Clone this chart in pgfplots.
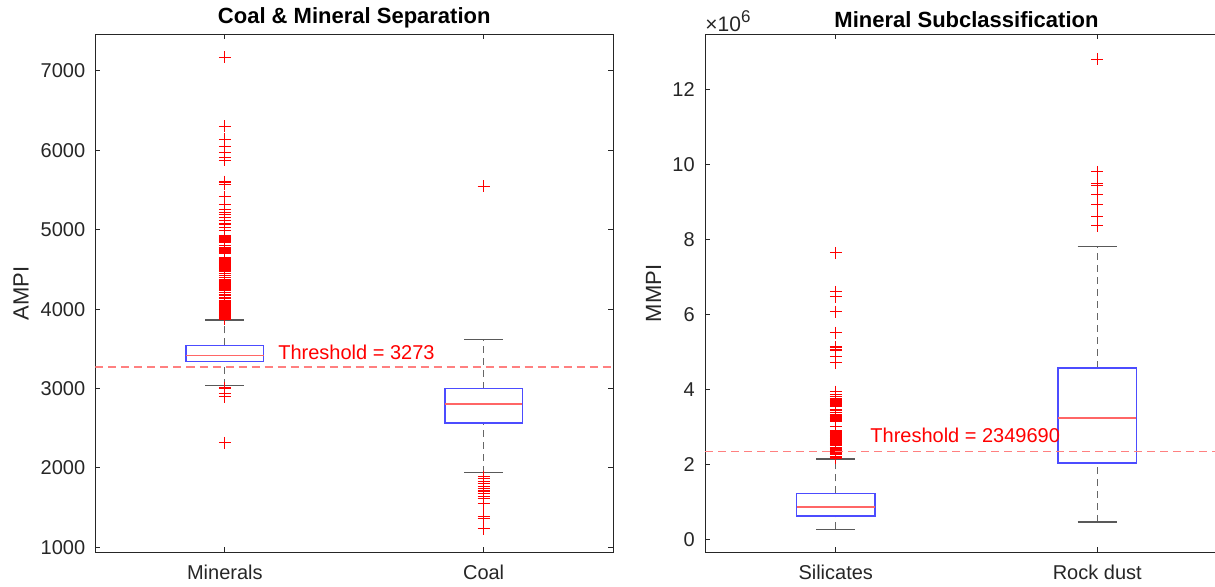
\documentclass[border=0pt]{standalone}
\usepackage{fontspec}
\setmainfont{Liberation Sans}
\usepackage{pgfplots}
\pgfplotsset{compat=1.18}
\definecolor{boxblue}{rgb}{0.3,0.3,1}
\definecolor{medred}{rgb}{1,0.4,0.4}
\definecolor{outred}{rgb}{1,0,0}
\definecolor{thrred}{rgb}{1,0.5,0.5}
\definecolor{axgray}{rgb}{0.15,0.15,0.15}
\definecolor{whisk}{rgb}{0.4,0.4,0.4}
\definecolor{capgray}{rgb}{0.35,0.35,0.35}
\pgfplotsset{
  mystyle/.style={
    scale only axis,
    height=259pt,
    tick align=inside,
    major tick length=2.5pt,
    axis line style={draw=axgray, line width=0.5pt},
    every tick/.style={draw=axgray, line width=0.5pt},
    tick label style={font=\fontsize{10}{12}\selectfont, text=axgray},
    yticklabel style={xshift=-1.6pt},
    xticklabel style={yshift=-2.6pt},
    /pgf/number format/assume math mode=true,
    /pgf/number format/1000 sep={},
    scaled y ticks=false,
    xtick={1,2},
    xmin=0.5, xmax=2.5,
    every axis y label/.style={rotate=90, anchor=center, font=\fontsize{11}{13}\selectfont, text=axgray},
    clip mode=individual,
  },
  boxst/.style={draw=boxblue, line width=0.75pt},
  medst/.style={draw=medred, line width=0.75pt},
  whiskst/.style={draw=whisk, line width=0.6pt, dash pattern=on 3.5pt off 2.5pt},
  capst/.style={draw=capgray, line width=0.6pt},
  outst/.style={only marks, mark=+, mark size=3pt, mark options={draw=outred, fill=outred, line width=0.55pt, solid}},
  thrst/.style={draw=thrred, line width=0.7pt, dash pattern=on 4pt off 2.5pt},
}
\begin{document}
\begin{tikzpicture}
\useasboundingbox (0,0) rectangle (607.5pt,293pt);
% ---------------- Left axis ----------------
\begin{axis}[mystyle,
  at={(47.75pt,16.85pt)}, anchor=south west, width=258.75pt,
  ymin=937, ymax=7462,
  ytick={1000,2000,3000,4000,5000,6000,7000},
  xticklabels={Minerals,Coal},
  title={Coal \& Mineral Separation},
  every axis title/.style={at={(axis description cs:0.5,1)}, anchor=center, yshift=8.1pt, font=\fontsize{11}{13}\selectfont\bfseries},
  ylabel={AMPI},
  every axis y label/.append style={at={(axis description cs:-0.144,0.5)}},
]
% whiskers
\addplot[whiskst] coordinates {(1,3544) (1,3862)};
\addplot[whiskst] coordinates {(1,3038) (1,3339)};
\addplot[whiskst] coordinates {(2,3000) (2,3615)};
\addplot[whiskst] coordinates {(2,1941) (2,2565)};
% caps
\addplot[capst] coordinates {(0.925,3862) (1.075,3862)};
\addplot[capst] coordinates {(0.925,3038) (1.075,3038)};
\addplot[capst] coordinates {(1.925,3615) (2.075,3615)};
\addplot[capst] coordinates {(1.925,1941) (2.075,1941)};
% boxes
\addplot[boxst] coordinates {(0.85,3339) (1.15,3339) (1.15,3544) (0.85,3544)} --cycle;
\addplot[boxst] coordinates {(1.85,2565) (2.15,2565) (2.15,3000) (1.85,3000)} --cycle;
% medians
\addplot[medst] coordinates {(0.85,3418) (1.15,3418)};
\addplot[medst] coordinates {(1.85,2803) (2.15,2803)};
% outliers: Minerals
\addplot[outst] coordinates {
(1,3875) (1,3887) (1,3899) (1,3911) (1,3923) (1,3935) (1,3947) (1,3959) (1,3971) (1,3983)
(1,3995) (1,4007) (1,4019) (1,4031) (1,4043) (1,4055) (1,4067) (1,4079) (1,4091) (1,4103)
(1,4135) (1,4150) (1,4170) (1,4190) (1,4210)
(1,4240) (1,4252) (1,4264) (1,4276) (1,4288) (1,4300) (1,4312) (1,4324) (1,4336) (1,4348) (1,4360) (1,4375)
(1,4400) (1,4420) (1,4445) (1,4470) (1,4490) (1,4505)
(1,4530) (1,4542) (1,4554) (1,4566) (1,4578) (1,4590) (1,4602) (1,4614) (1,4626) (1,4638) (1,4650)
(1,4700) (1,4720) (1,4745) (1,4770) (1,4800)
(1,4845) (1,4857) (1,4869) (1,4881) (1,4893) (1,4905) (1,4917) (1,4925)
(1,4988) (1,5029) (1,5072) (1,5113) (1,5155) (1,5188) (1,5217) (1,5251) (1,5323) (1,5418)
(1,5574) (1,5590) (1,5606) (1,5875) (1,5908) (1,5970) (1,6054) (1,6138) (1,6305) (1,7170)
(1,3010) (1,2995) (1,2935) (1,2898) (1,2315)
};
% outliers: Coal
\addplot[outst] coordinates {
(2,5548) (2,1891) (2,1862) (2,1828) (2,1799) (2,1766) (2,1736) (2,1711) (2,1703)
(2,1674) (2,1640) (2,1611) (2,1548) (2,1389) (2,1368) (2,1234)
};
% threshold
\addplot[thrst] coordinates {(0.5,3273) (2.5,3273)};
\node[anchor=west, inner sep=0pt, text=red, font=\fontsize{10}{12}\selectfont] at (axis cs:1.205,3453) {Threshold = 3273};
\end{axis}
% ---------------- Right axis ----------------
\begin{axis}[mystyle,
  at={(352.5pt,16.85pt)}, anchor=south west, width=261.5pt,
  ymin=-0.347, ymax=13.47,
  ytick={0,2,4,6,8,10,12},
  xticklabels={Silicates,Rock dust},
  title={Mineral Subclassification},
  every axis title/.style={at={(axis description cs:0.5,1)}, anchor=center, yshift=7.4pt, font=\fontsize{11}{13}\selectfont\bfseries},
  ylabel={MMPI},
  every axis y label/.append style={at={(axis description cs:-0.0983,0.5)}},
]
% whiskers
\addplot[whiskst] coordinates {(1,1.227) (1,2.142)};
\addplot[whiskst] coordinates {(1,0.267) (1,0.622)};
\addplot[whiskst] coordinates {(2,4.57) (2,7.82)};
\addplot[whiskst] coordinates {(2,0.46) (2,2.04)};
% caps
\addplot[capst] coordinates {(0.925,2.142) (1.075,2.142)};
\addplot[capst] coordinates {(0.925,0.267) (1.075,0.267)};
\addplot[capst] coordinates {(1.925,7.82) (2.075,7.82)};
\addplot[capst] coordinates {(1.925,0.46) (2.075,0.46)};
% boxes
\addplot[boxst] coordinates {(0.85,0.622) (1.15,0.622) (1.15,1.227) (0.85,1.227)} --cycle;
\addplot[boxst] coordinates {(1.85,2.04) (2.15,2.04) (2.15,4.57) (1.85,4.57)} --cycle;
% medians
\addplot[medst] coordinates {(0.85,0.862) (1.15,0.862)};
\addplot[medst] coordinates {(1.85,3.24) (2.15,3.24)};
% outliers: Silicates
\addplot[outst] coordinates {
(1,2.16) (1,2.19) (1,2.22) (1,2.25) (1,2.28) (1,2.31) (1,2.34) (1,2.37) (1,2.40) (1,2.43)
(1,2.46) (1,2.49) (1,2.52) (1,2.55) (1,2.58) (1,2.61) (1,2.64) (1,2.67) (1,2.70) (1,2.73)
(1,2.78) (1,2.81) (1,2.84) (1,2.87) (1,2.90) (1,3.00)
(1,3.14) (1,3.17) (1,3.20) (1,3.23) (1,3.26) (1,3.29) (1,3.32) (1,3.38) (1,3.45) (1,3.54)
(1,3.58) (1,3.61) (1,3.64) (1,3.67) (1,3.70) (1,3.73) (1,3.76) (1,3.80) (1,3.86) (1,3.94)
(1,4.71) (1,4.87) (1,5.03) (1,5.07) (1,5.13) (1,5.51) (1,6.07) (1,6.47) (1,6.60) (1,7.64)
};
% outliers: Rock dust
\addplot[outst] coordinates {
(2,8.37) (2,8.60) (2,8.93) (2,9.20) (2,9.44) (2,9.50) (2,9.80) (2,12.80)
};
% threshold
\addplot[thrst] coordinates {(0.5,2.34969) (2.5,2.34969)};
\node[anchor=west, inner sep=0pt, text=red, font=\fontsize{10}{12}\selectfont] at (axis cs:1.131,2.76) {Threshold = 2349690};
\node[anchor=base west, inner sep=0pt, text=axgray, font=\fontsize{10.5}{12}\selectfont] at ([yshift=1.6pt]rel axis cs:0,1) {×10\raisebox{0.42em}{\fontsize{8.5}{10}\selectfont 6}};
\end{axis}
\end{tikzpicture}
\end{document}
